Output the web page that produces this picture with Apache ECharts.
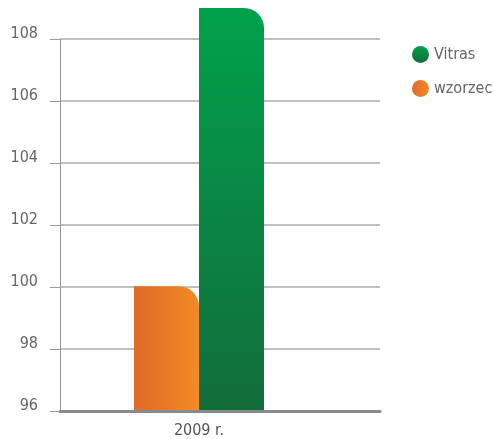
<!DOCTYPE html>
<html>
<head>
<meta charset="utf-8">
<script src="https://cdn.jsdelivr.net/npm/echarts@6/dist/echarts.min.js"></script>
<style>
	html, body {margin: 0; padding: 0; background: #fff;}
	#chart {width: 494px; height: 439px;}
</style>
</head>
<body>
<div id="chart"></div>
<script>
	var categories = ["2009 r."];
	var vitras = [109];
	var wzorzec = [100];
	var yMin = 96, yMax = 108, yStep = 2;
	var barMax = 109;

	var font = "'Liberation Sans Narrow', 'DejaVu Sans Condensed', sans-serif";

	var chart = echarts.init(document.getElementById("chart"));
	//grid 0 draws the axes and lines, grid 1 holds the bars (same scale, taller)
	var option = {
		animation: false,
		legend: {
			orient: "vertical",
			left: 407,
			top: 41,
			icon: "circle",
			itemWidth: 17,
			itemHeight: 17,
			itemGap: 17,
			data: ["Vitras", "wzorzec"],
			textStyle: {color: "#666", fontSize: 16, fontFamily: font}
		},
		grid: [
			{left: 60, right: 114, top: 39, bottom: 28},
			{left: 18, right: 114, top: 8, bottom: 28}
		],
		xAxis: [{
			gridIndex: 0,
			type: "category",
			data: [""],
			axisLine: {lineStyle: {color: "#8a8a8a", width: 3}},
			axisTick: {show: false},
			axisLabel: {show: false}
		}, {
			gridIndex: 1,
			type: "category",
			data: categories,
			axisLine: {show: false},
			axisTick: {show: false},
			axisLabel: {color: "#555", fontSize: 16, fontFamily: font, margin: 13}
		}],
		yAxis: [{
			gridIndex: 0,
			type: "value",
			min: yMin,
			max: yMax,
			interval: yStep,
			axisLine: {show: true, lineStyle: {color: "#999", width: 1}},
			axisTick: {show: true, length: 10, lineStyle: {color: "#999"}},
			axisLabel: {
				color: "#666", fontSize: 16, fontFamily: font, margin: 22,
				verticalAlign: "bottom", lineHeight: 10
			},
			splitLine: {lineStyle: {color: "#aaa", width: 1.5}}
		}, {
			gridIndex: 1,
			type: "value",
			min: yMin,
			max: barMax,
			show: false
		}],
		series: [{
			name: "wzorzec",
			type: "bar",
			xAxisIndex: 1,
			yAxisIndex: 1,
			data: wzorzec,
			barWidth: 65,
			barGap: "0%",
			itemStyle: {
				borderRadius: [0, 20, 0, 0],
				color: new echarts.graphic.LinearGradient(0, 0, 1, 0, [
					{offset: 0, color: "#e06a28"},
					{offset: 1, color: "#f28a25"}
				])
			}
		}, {
			name: "Vitras",
			type: "bar",
			xAxisIndex: 1,
			yAxisIndex: 1,
			data: vitras,
			barWidth: 65,
			itemStyle: {
				borderRadius: [0, 20, 0, 0],
				color: new echarts.graphic.LinearGradient(0, 0, 0, 1, [
					{offset: 0, color: "#00a14b"},
					{offset: 1, color: "#126c3b"}
				])
			}
		}]
	};
	chart.setOption(option);
</script>
</body>
</html>
